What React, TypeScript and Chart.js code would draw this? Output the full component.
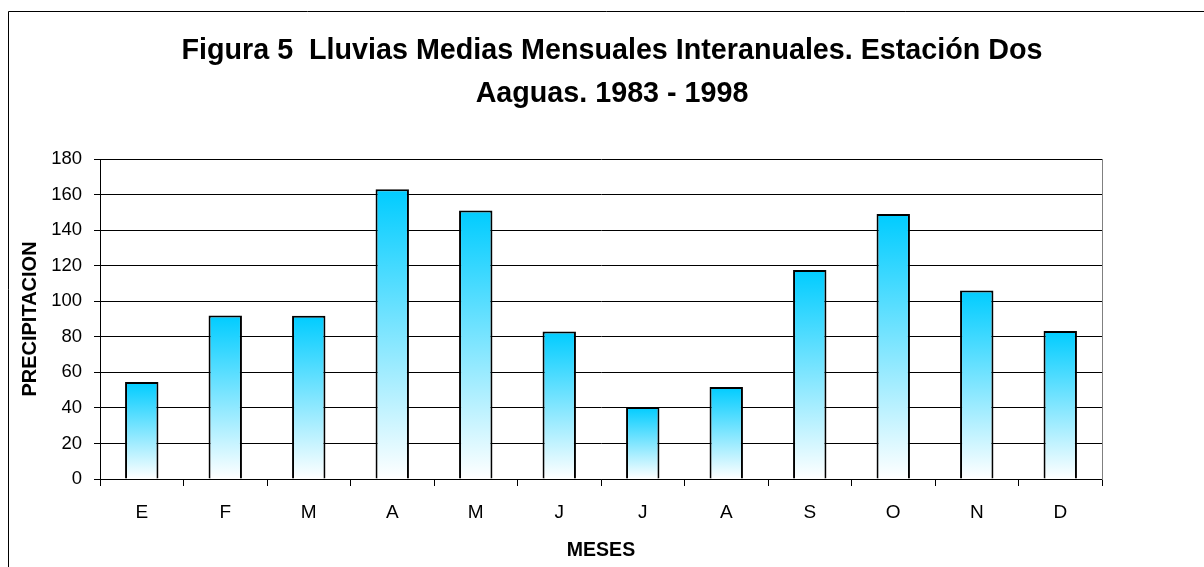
import React, { useEffect, useRef } from 'react';
import { Chart, registerables } from 'chart.js';

Chart.register(...registerables);

const categories = ['E', 'F', 'M', 'A', 'M', 'J', 'J', 'A', 'S', 'O', 'N', 'D'];
const precipitation = [54.5, 92, 91.8, 163, 151, 83, 40.5, 51.7, 117.5, 149, 106, 83.3];
const titleLines = ['Figura 5  Lluvias Medias Mensuales Interanuales. Estación Dos', 'Aaguas. 1983 - 1998'];
const yAxisTitle = 'PRECIPITACION';
const xAxisTitle = 'MESES';
const yMin = 0;
const yMax = 180;
const yStep = 20;

const FONT = '"Liberation Sans", Arial, sans-serif';

export default function App() {
  const ref = useRef<HTMLCanvasElement>(null);

  useEffect(() => {
    if (!ref.current) return;
    const borderPlugin = {
      id: 'outerBorder',
      beforeDraw(chart: any) {
        const c = chart.ctx;
        c.save();
        c.fillStyle = '#ffffff';
        c.fillRect(0, 0, chart.width, chart.height);
        c.strokeStyle = '#000000';
        c.lineWidth = 1;
        c.beginPath();
        c.moveTo(8.5, chart.height);
        c.lineTo(8.5, 11.5);
        c.lineTo(chart.width, 11.5);
        c.stroke();
        c.restore();
      },
    };

    const chart = new Chart(ref.current, {
      type: 'bar',
      data: {
        labels: categories,
        datasets: [
          {
            data: precipitation,
            backgroundColor: (ctx: any) => {
              const ch = ctx.chart;
              if (!ch.chartArea || ctx.type !== 'data') return 'rgb(0,204,255)';
              const ys = ch.scales.y;
              const top = ys.getPixelForValue(Number(ctx.raw));
              const base = ys.getPixelForValue(0);
              const g = ch.ctx.createLinearGradient(0, top, 0, base);
              g.addColorStop(0, 'rgb(0,204,255)');
              g.addColorStop(1, 'rgb(255,255,255)');
              return g;
            },
            borderColor: '#000000',
            borderWidth: 2,
            barPercentage: 0.4,
            categoryPercentage: 1,
          },
        ],
      },
      options: {
        responsive: false,
        animation: false,
        layout: { padding: { left: 20, right: 0, top: 0, bottom: 0 } },
        plugins: {
          legend: { display: false },
          tooltip: { enabled: false },
          title: {
            display: true,
            text: titleLines,
            color: '#000000',
            font: { family: FONT, size: 28.7, weight: 'bold', lineHeight: 1.5 },
            padding: { top: 29.5, bottom: 43.4 },
          },
        },
        scales: {
          x: {
            grid: {
              display: true,
              drawOnChartArea: false,
              drawTicks: true,
              tickLength: 7,
              color: '#000000',
              offset: true,
            },
            border: { display: true, color: '#000000', width: 1 },
            ticks: {
              color: '#000000',
              font: { family: FONT, size: 19 },
              padding: 15,
              maxRotation: 0,
              autoSkip: false,
            },
            title: {
              display: true,
              text: xAxisTitle,
              color: '#000000',
              font: { family: FONT, size: 19.5, weight: 'bold', lineHeight: 1.2 },
              padding: { top: 0, bottom: 5 },
            },
            afterFit: (s: any) => {
              s.height = 88;
            },
          },
          y: {
            position: 'left',
            min: yMin,
            max: yMax,
            grid: { color: '#000000', lineWidth: 1, tickLength: 6, drawTicks: true },
            border: { display: true, color: '#000000', width: 1 },
            ticks: {
              stepSize: yStep,
              color: '#000000',
              font: { family: FONT, size: 18.5 },
              padding: 12,
            },
            title: {
              display: true,
              text: yAxisTitle,
              color: '#000000',
              font: { family: FONT, size: 20, weight: 'bold', lineHeight: 1 },
              padding: { top: 0.4, bottom: 0 },
            },
            afterFit: (s: any) => {
              s.width = 80;
            },
          },
          yR: {
            axis: 'y',
            type: 'linear',
            position: 'right',
            display: true,
            min: 0,
            max: 1,
            grid: { display: false, drawTicks: false },
            ticks: { display: false },
            border: { display: true, color: '#808080', width: 1 },
            afterFit: (s: any) => {
              s.width = 102;
            },
          },
        },
      } as any,
      plugins: [borderPlugin],
    });

    return () => chart.destroy();
  }, []);

  return (
    <div style={{ position: 'absolute', left: 0, top: 0, width: 1204, height: 567 }}>
      <canvas ref={ref} width={1204} height={567} style={{ display: 'block', width: 1204, height: 567 }} />
    </div>
  );
}
